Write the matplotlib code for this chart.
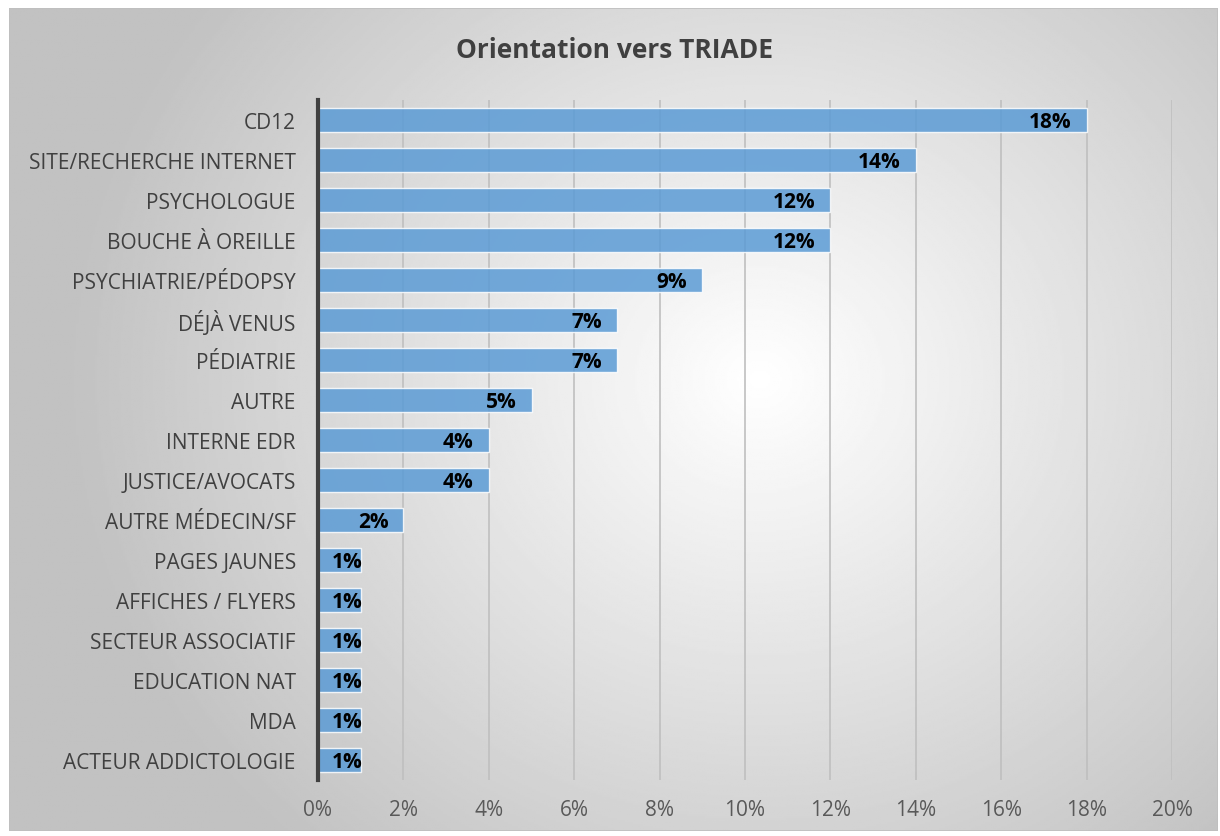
import numpy as np
import matplotlib
matplotlib.use("Agg")
from matplotlib import pyplot as plt
from matplotlib.patches import Rectangle
from matplotlib.ticker import FuncFormatter

categories = ["CD12", "SITE/RECHERCHE INTERNET", "PSYCHOLOGUE", "BOUCHE À OREILLE",
              "PSYCHIATRIE/PÉDOPSY", "DÉJÀ VENUS", "PÉDIATRIE", "AUTRE", "INTERNE EDR",
              "JUSTICE/AVOCATS", "AUTRE MÉDECIN/SF", "PAGES JAUNES", "AFFICHES / FLYERS",
              "SECTEUR ASSOCIATIF", "EDUCATION NAT", "MDA", "ACTEUR ADDICTOLOGIE"]
values = [18, 14, 12, 12, 9, 7, 7, 5, 4, 4, 2, 1, 1, 1, 1, 1, 1]
xticks = [0, 2, 4, 6, 8, 10, 12, 14, 16, 18, 20]

plt.rcParams["font.family"] = ["Open Sans", "DejaVu Sans"]

W, H = 1220, 837
fig = plt.figure(figsize=(W / 100, H / 100), dpi=100)

# radial gradient background inside the chart frame
bg = fig.add_axes([9 / W, 5 / H, 1209 / W, 823 / H])
yy, xx = np.mgrid[0:400, 0:600]
cx, cy = 0.62, 0.45
r = np.sqrt(((xx / 600 - cx) * 1.0) ** 2 + ((yy / 400 - cy) * 0.75) ** 2)
shade = np.clip(1 - r * 0.42, 0.76, 1.0)
bg.imshow(shade, cmap="gray", vmin=0, vmax=1, aspect="auto", extent=[0, 1, 0, 1])
bg.add_patch(Rectangle((0, 0), 1, 1, transform=bg.transAxes, fill=False,
                       edgecolor="#BFBFBF", linewidth=1.2))
bg.set_axis_off()

ax = fig.add_axes([318 / W, (H - 781) / H, (1172 - 318) / W, 680 / H])
ax.patch.set_alpha(0)
y = np.arange(len(categories))
ax.barh(y, values, height=0.6, color="#5B9BD5", alpha=0.85,
        edgecolor="white", linewidth=1.0, zorder=3)
ax.set_ylim(len(categories) - 0.5, -0.5)
ax.set_xlim(0, 20)
ax.set_xticks(xticks)
ax.xaxis.set_major_formatter(FuncFormatter(lambda v, p: f"{v:.0f}%"))
ax.set_yticks(y)
ax.set_yticklabels(categories)
ax.tick_params(axis="y", length=0, pad=16, labelsize=15, labelcolor="#404040")
ax.tick_params(axis="x", length=0, pad=14, labelsize=15, labelcolor="#595959")
ax.grid(axis="x", color="#BFBFBF", linewidth=1.2, zorder=1)
for s in ["top", "right", "bottom"]:
    ax.spines[s].set_visible(False)
ax.spines["left"].set_color("#404040")
ax.spines["left"].set_linewidth(3)
ax.spines["left"].set_zorder(5)

for yi, v in zip(y, values):
    if v < 1.5:
        ax.annotate(f"{v}%", (0, yi), xytext=(14, -2), textcoords="offset pixels",
                    ha="left", va="center", fontsize=15, fontweight="bold",
                    color="black", zorder=4)
    else:
        ax.annotate(f"{v}%", (v, yi), xytext=(-15, -2), textcoords="offset pixels",
                    ha="right", va="center", fontsize=15, fontweight="bold",
                    color="black", zorder=4)

fig.text(615 / W, 1 - 50 / H, "Orientation vers TRIADE", ha="center", va="center",
         fontsize=19, fontweight="bold", color="#404040")

fig.savefig("out.png", dpi=100)
